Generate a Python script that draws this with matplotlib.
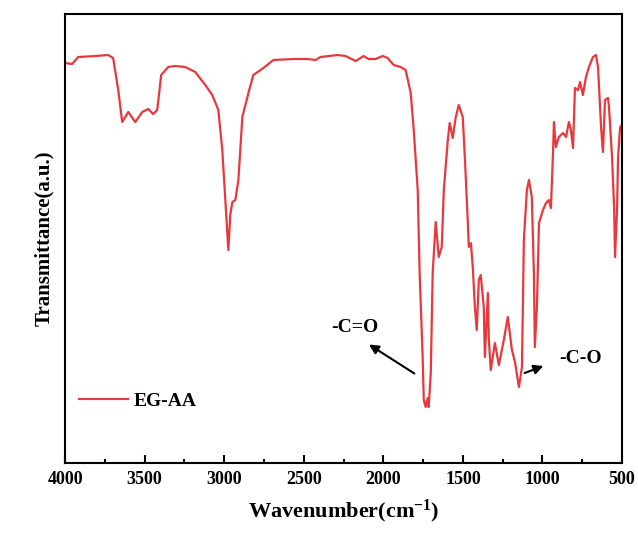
import numpy as np
import matplotlib
matplotlib.use('Agg')
import matplotlib.pyplot as plt
from matplotlib.ticker import MultipleLocator

# Espectro FTIR EG-AA (transmitancia en u.a.)
wavenumber = [4000, 3956, 3918, 3811, 3729, 3698, 3666, 3641, 3603, 3559,
              3515, 3478, 3446, 3421, 3396, 3352, 3308, 3245, 3182, 3119,
              3075, 3037, 3012, 2993, 2974, 2962, 2949, 2930, 2911, 2886,
              2848, 2817, 2754, 2691, 2565, 2477, 2426, 2395, 2288, 2237,
              2174, 2124, 2093, 2049, 2004, 1973, 1935, 1891, 1860, 1828,
              1809, 1784, 1772, 1753, 1746, 1734, 1721, 1715, 1702, 1690,
              1671, 1652, 1633, 1620, 1595, 1583, 1564, 1545, 1526, 1501,
              1488, 1469, 1463, 1450, 1438, 1425, 1413, 1400, 1388, 1369,
              1362, 1343, 1337, 1325, 1299, 1274, 1243, 1218, 1192, 1173,
              1148, 1129, 1117, 1098, 1085, 1067, 1054, 1048, 1035, 1022,
              997, 978, 960, 947, 934, 928, 916, 897, 871, 852,
              834, 821, 808, 796, 777, 764, 746, 727, 708, 683,
              664, 651, 632, 620, 607, 588, 582, 563, 550, 544,
              531, 525, 512, 500]
transmittance = [400, 399, 406, 407, 408, 405, 373, 341, 351, 341,
                 351, 354, 349, 353, 388, 396, 397, 396, 391, 378,
                 368, 353, 313, 263, 213, 248, 261, 263, 283, 346,
                 370, 388, 395, 403, 404, 404, 403, 406, 408, 407,
                 402, 407, 404, 404, 407, 405, 398, 396, 393, 370,
                 333, 273, 190, 106, 63, 56, 65, 56, 90, 190,
                 241, 206, 216, 273, 323, 340, 325, 346, 358, 346,
                 306, 240, 216, 220, 196, 156, 133, 183, 188, 156,
                 106, 170, 123, 93, 120, 98, 123, 146, 113, 101,
                 76, 96, 223, 273, 283, 266, 190, 116, 156, 240,
                 253, 260, 263, 255, 310, 341, 316, 326, 330, 326,
                 341, 333, 315, 375, 373, 381, 368, 386, 396, 406,
                 408, 396, 336, 311, 363, 365, 356, 306, 256, 206,
                 256, 306, 336, 338]

plt.rcParams['font.family'] = ['Liberation Serif', 'DejaVu Serif']
plt.rcParams['font.weight'] = 'bold'
plt.rcParams['mathtext.fontset'] = 'custom'
plt.rcParams['mathtext.rm'] = 'Liberation Serif:bold'
plt.rcParams['mathtext.bf'] = 'Liberation Serif:bold'
plt.rcParams['mathtext.default'] = 'bf'

fig = plt.figure(figsize=(6.38, 5.33), dpi=100)
ax = fig.add_axes([0.102, 0.1313, 0.873, 0.8424])

ax.plot(wavenumber, transmittance, color='#e8383d', lw=1.6, label='EG-AA')

ax.set_xlim(4000, 500)
ax.set_ylim(0, 449)
ax.xaxis.set_major_locator(MultipleLocator(500))
ax.xaxis.set_minor_locator(MultipleLocator(250))
ax.tick_params(axis='x', which='major', direction='in', length=6, width=1.5,
               labelsize=13, pad=6)
ax.tick_params(axis='x', which='minor', direction='in', length=3, width=1.5)
ax.set_yticks([])
for s in ax.spines.values():
    s.set_linewidth(1.5)

ax.set_xlabel('Wavenumber(cm$^{-1}$)', fontsize=16, fontweight='bold', labelpad=7)
ax.set_ylabel('Transmittance(a.u.)', fontsize=15, fontweight='bold', labelpad=8)

# anotaciones de los grupos
ax.annotate('', xy=(2105, 120), xytext=(1790, 88),
            arrowprops=dict(arrowstyle='-|>', color='black', lw=1.5,
                            mutation_scale=14))
ax.text(2181, 136, '-C=O', fontsize=14, fontweight='bold', ha='center', va='center')
ax.annotate('', xy=(978, 98), xytext=(1129, 89),
            arrowprops=dict(arrowstyle='-|>', color='black', lw=1.5,
                            mutation_scale=14))
ax.text(758, 105, '-C-O', fontsize=14, fontweight='bold', ha='center', va='center')

leg = ax.legend(loc='lower left', bbox_to_anchor=(-0.006, 0.08), frameon=False,
                fontsize=14, handlelength=2.5, handletextpad=0.3)
for t in leg.get_texts():
    t.set_fontweight('bold')

plt.savefig('out.png', dpi=100)
